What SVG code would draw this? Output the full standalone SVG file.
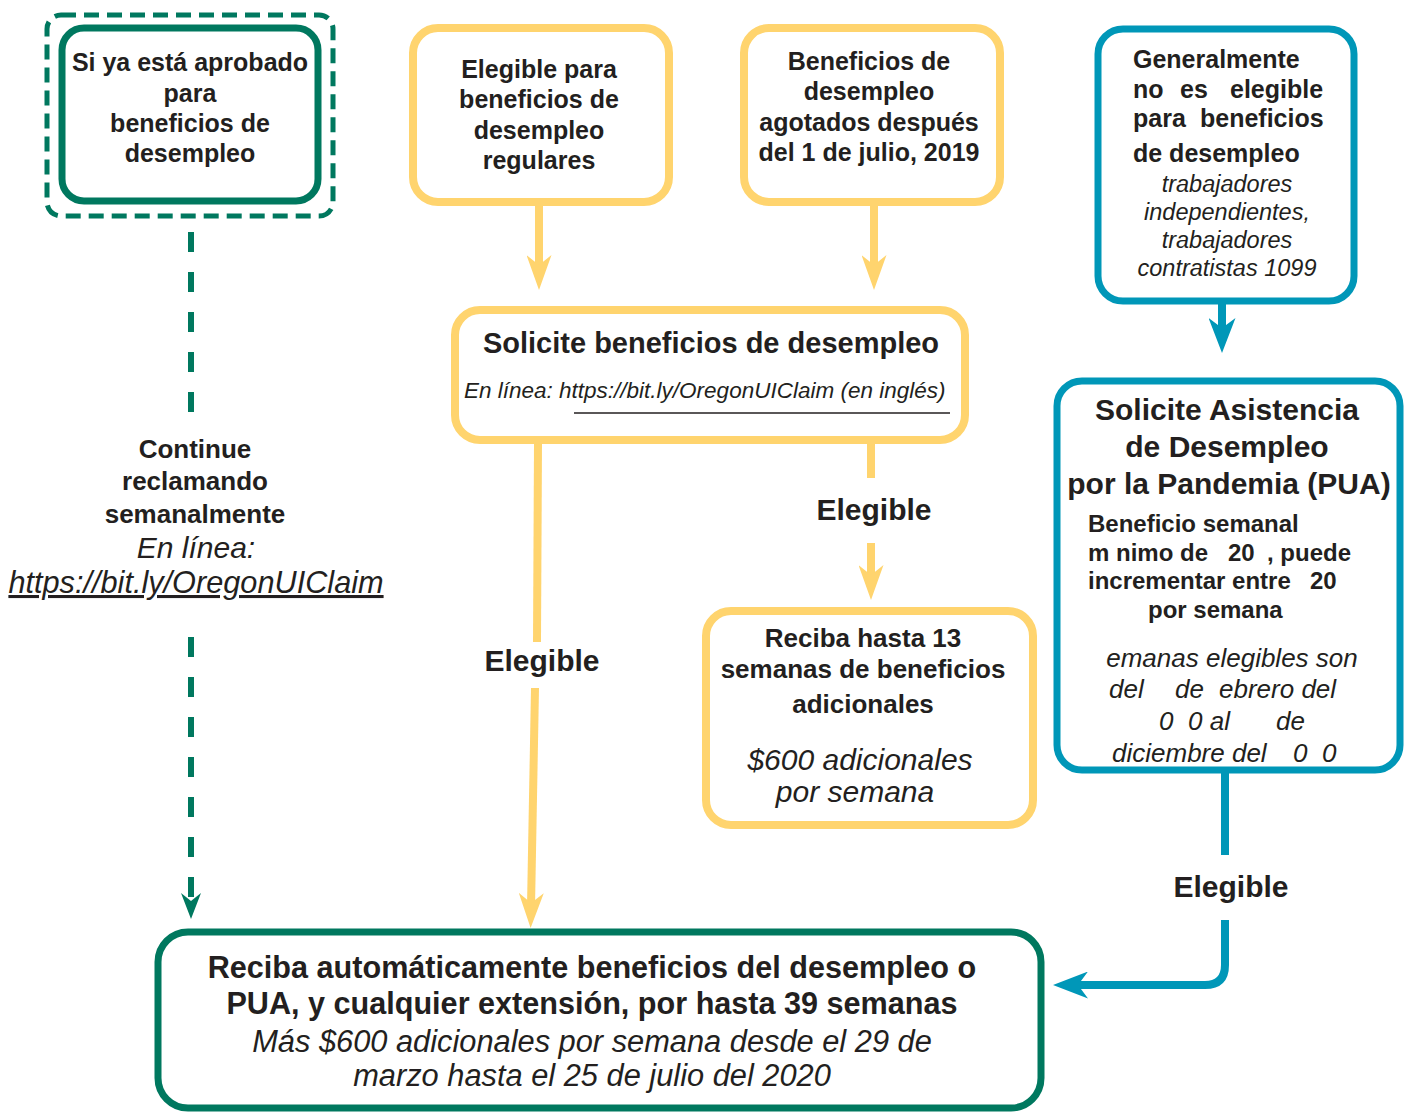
<svg xmlns="http://www.w3.org/2000/svg" width="1405" height="1112" viewBox="0 0 1405 1112">
<style>
.t{font-family:"Liberation Sans",Arial,Helvetica,sans-serif;fill:#231F20}
.b{font-weight:bold}
.i{font-style:italic}
.c{text-anchor:middle}
.yb{fill:#fff;stroke:#FFD46E;stroke-width:8}
.gb{fill:#fff;stroke:#00785F;stroke-width:7}
.tb{fill:#fff;stroke:#0097B8;stroke-width:7}
.yl{fill:none;stroke:#FFD46E;stroke-width:8}
.tl{fill:none;stroke:#0097B8;stroke-width:8}
.gl{fill:none;stroke:#00785F;stroke-width:6;stroke-dasharray:20 20}
</style>
<defs>
<marker id="ahY" markerUnits="userSpaceOnUse" markerWidth="35" markerHeight="25" viewBox="0 0 35 25" refX="14" refY="12.5" orient="auto"><path d="M0,0 L35,12.5 L0,25 L10,12.5 Z" fill="#FFD46E"/></marker>
<marker id="ahT" markerUnits="userSpaceOnUse" markerWidth="35" markerHeight="27" viewBox="0 0 35 27" refX="14" refY="13.5" orient="auto"><path d="M0,0 L35,13.5 L0,27 L10,13.5 Z" fill="#0097B8"/></marker>
<marker id="ahG" markerUnits="userSpaceOnUse" markerWidth="26" markerHeight="20" viewBox="0 0 26 20" refX="10" refY="10" orient="auto"><path d="M0,0 L26,10 L0,20 L8,10 Z" fill="#00785F"/></marker>
</defs>
<rect width="1405" height="1112" fill="#fff"/>

<g id="connectors">
<path class="gl" d="M191,232 V413"/>
<path class="gl" d="M191,637 V903" marker-end="url(#ahG)"/>
<path class="yl" d="M539,205 V269" marker-end="url(#ahY)"/>
<path class="yl" d="M874,205 V269" marker-end="url(#ahY)"/>
<path class="yl" d="M538,443 L537,642"/>
<path class="yl" d="M535,688 L531,907" marker-end="url(#ahY)"/>
<path class="yl" d="M871,443 V478"/>
<path class="yl" d="M871,543 V579" marker-end="url(#ahY)"/>
<path class="tl" d="M1222,304 V332" marker-end="url(#ahT)"/>
<path class="tl" d="M1225,773 V855"/>
<path class="tl" d="M1225,920 V965 Q1225,985 1205,985 H1074" marker-end="url(#ahT)"/>
<text class="t b c" x="542" y="671" font-size="30">Elegible</text>
<text class="t b c" x="874" y="520" font-size="30">Elegible</text>
<text class="t b c" x="1231" y="897" font-size="30">Elegible</text>
</g>

<g id="aprobado">
<rect x="47" y="15" width="286" height="201" rx="14" fill="none" stroke="#00785F" stroke-width="5" stroke-dasharray="15 8"/>
<rect class="gb" x="62" y="28" width="256" height="173" rx="22"/>
<text class="t b c" x="190" font-size="25"><tspan x="190" y="71">Si ya está aprobado</tspan><tspan x="190" y="102">para</tspan><tspan x="190" y="132">beneficios de</tspan><tspan x="190" y="162">desempleo</tspan></text>
</g>

<g id="continue">
<text class="t b c" font-size="26"><tspan x="195" y="458">Continue</tspan><tspan x="195" y="490">reclamando</tspan><tspan x="195" y="523">semanalmente</tspan></text>
<text class="t i c" font-size="30" x="196" y="558">En línea:</text>
<text class="t i c" font-size="30.7" x="196" y="593" text-decoration="underline">https://bit.ly/OregonUIClaim</text>
</g>

<g id="regulares">
<rect class="yb" x="413" y="28" width="256" height="174" rx="25"/>
<text class="t b c" font-size="25"><tspan x="539" y="78">Elegible para</tspan><tspan x="539" y="108">beneficios de</tspan><tspan x="539" y="139">desempleo</tspan><tspan x="539" y="169">regulares</tspan></text>
</g>

<g id="agotados">
<rect class="yb" x="744" y="28" width="256" height="174" rx="25"/>
<text class="t b c" font-size="25"><tspan x="869" y="70">Beneficios de</tspan><tspan x="869" y="100">desempleo</tspan><tspan x="869" y="131">agotados después</tspan><tspan x="869" y="161">del 1 de julio, 2019</tspan></text>
</g>

<g id="no-elegible">
<rect class="tb" x="1098" y="29" width="256" height="272" rx="25"/>
<text class="t b" font-size="25"><tspan x="1133" y="68">Generalmente</tspan><tspan x="1133" y="98">no</tspan><tspan x="1180" y="98">es</tspan><tspan x="1230" y="98">elegible</tspan><tspan x="1133" y="127">para</tspan><tspan x="1200" y="127">beneficios</tspan><tspan x="1133" y="162">de desempleo</tspan></text>
<text class="t i c" font-size="23.5"><tspan x="1227" y="192">trabajadores</tspan><tspan x="1227" y="220">independientes,</tspan><tspan x="1227" y="248">trabajadores</tspan><tspan x="1227" y="276">contratistas 1099</tspan></text>
</g>

<g id="solicite">
<rect class="yb" x="455" y="310" width="510" height="130" rx="25"/>
<text class="t b c" x="711" y="353" font-size="29">Solicite beneficios de desempleo</text>
<text class="t i" x="464" y="398" font-size="22.5">En línea: https://bit.ly/OregonUIClaim (en inglés)</text>
<line x1="574" y1="413" x2="950" y2="413" stroke="#231F20" stroke-width="1.5"/>
</g>

<g id="trece-semanas">
<rect class="yb" x="706" y="611" width="327" height="214" rx="25"/>
<text class="t b c" font-size="26"><tspan x="863" y="647">Reciba hasta 13</tspan><tspan x="863" y="678">semanas de beneficios</tspan><tspan x="863" y="713">adicionales</tspan></text>
<text class="t i c" font-size="30"><tspan x="860" y="770">$600 adicionales</tspan><tspan x="855" y="802">por semana</tspan></text>
</g>

<g id="pua">
<rect class="tb" x="1057" y="381" width="343" height="389" rx="25"/>
<text class="t b c" font-size="30"><tspan x="1227" y="420">Solicite Asistencia</tspan><tspan x="1227" y="457">de Desempleo</tspan><tspan x="1229" y="494">por la Pandemia (PUA)</tspan></text>
<text class="t b" font-size="24"><tspan x="1088" y="532">Beneficio semanal</tspan><tspan x="1088" y="561">m nimo de</tspan><tspan x="1228" y="561">20</tspan><tspan x="1267" y="561">, puede</tspan><tspan x="1088" y="589">incrementar entre</tspan><tspan x="1310" y="589">20</tspan><tspan x="1148" y="618">por semana</tspan></text>
<text class="t i" font-size="26"><tspan x="1232" y="667" text-anchor="middle">emanas elegibles son</tspan><tspan x="1109" y="698">del</tspan><tspan x="1175" y="698">de</tspan><tspan x="1219" y="698">ebrero del</tspan><tspan x="1159" y="730">0</tspan><tspan x="1188" y="730">0 al</tspan><tspan x="1276" y="730">de</tspan><tspan x="1112" y="762">diciembre del</tspan><tspan x="1293" y="762">0</tspan><tspan x="1322" y="762">0</tspan></text>
</g>

<g id="reciba-automaticamente">
<rect class="gb" x="158" y="932" width="883" height="176" rx="30"/>
<text class="t b c" font-size="30.6"><tspan x="592" y="978">Reciba automáticamente beneficios del desempleo o</tspan><tspan x="592" y="1014">PUA, y cualquier extensión, por hasta 39 semanas</tspan></text>
<text class="t i c" font-size="30.8"><tspan x="592" y="1052">Más $600 adicionales por semana desde el 29 de</tspan><tspan x="592" y="1086">marzo hasta el 25 de julio del 2020</tspan></text>
</g>
</svg>
